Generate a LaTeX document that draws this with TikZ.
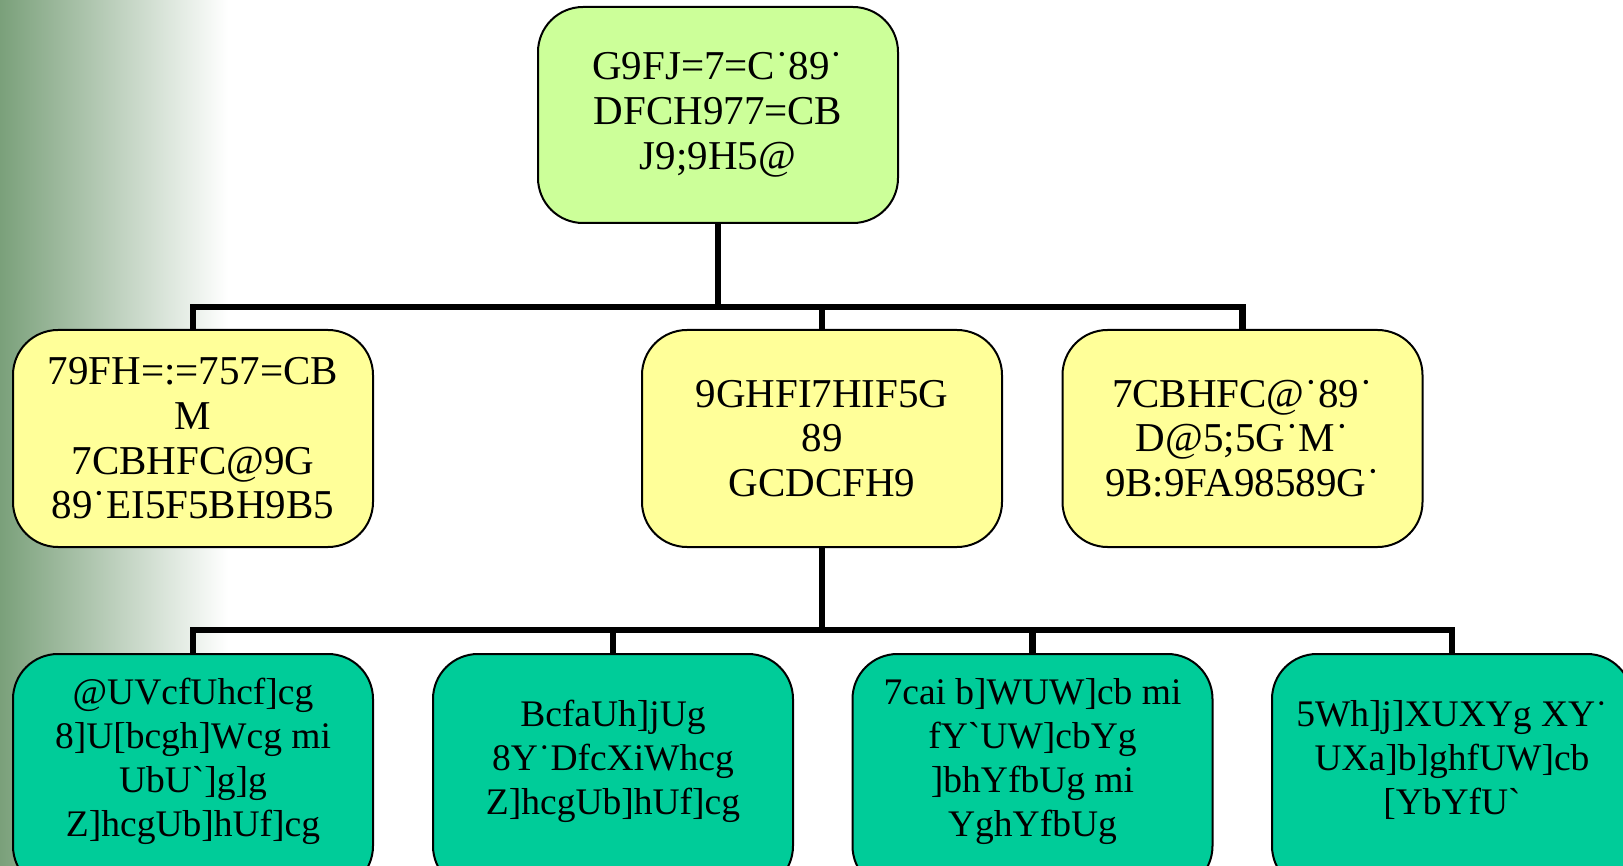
\documentclass[tikz,border=0pt]{standalone}
\usepackage{fontspec}
\newfontfamily\boxfont{Liberation Serif}
\definecolor{topfill}{RGB}{204,255,153}
\definecolor{midfill}{RGB}{255,255,153}
\definecolor{botfill}{RGB}{0,204,153}
\definecolor{bgleft}{RGB}{122,160,122}
\newcommand{\uplines}[1]{\raisebox{11pt}[\height][\depth]{\begin{tabular}{@{}c@{}}#1\end{tabular}}}
\tikzset{
  box/.style={draw=black, line width=2pt, rounded corners=45pt, align=center,
    minimum width=360pt, inner sep=0pt},
  topbox/.style={box, fill=topfill, minimum height=216pt, font=\boxfont\fontsize{41}{45}\selectfont},
  midbox/.style={box, fill=midfill, minimum height=217pt, font=\boxfont\fontsize{41}{44.7}\selectfont},
  botbox/.style={box, fill=botfill, minimum height=237pt, font=\boxfont\fontsize{37.5}{44}\selectfont},
  link/.style={line width=6.5pt, draw=black}
}
\begin{document}
\begin{tikzpicture}[x=1pt,y=-1pt]
\useasboundingbox (0,0) rectangle (1623,866);
\clip (0,0) rectangle (1623,866);
\shade[left color=bgleft, right color=white] (0,0) rectangle (228,866);

\node[topbox] (top) at (718,115) {G9FJ=7=C˙89˙\\DFCH977=CB\\J9;9H5@};

\node[midbox] (ml) at (193,438.5) {79FH=:=757=CB\\M\\7CBHFC@9G\\89˙EI5F5BH9B5};
\node[midbox] (mm) at (822,438.5) {9GHFI7HIF5G\\89\\GCDCFH9};
\node[midbox] (mr) at (1242.5,438.5) {7CBHFC@˙89˙\\D@5;5G˙M˙\\9B:9FA98589G˙};

\node[botbox] (b1) at (193,772.5) {\uplines{@UVcfUhcf]cg\\8]U[bcgh]Wcg mi\\UbU`]g]g\\Z]hcgUb]hUf]cg}};
\node[botbox] (b2) at (613,772.5) {\uplines{BcfaUh]jUg\\8Y˙DfcXiWhcg\\Z]hcgUb]hUf]cg}};
\node[botbox] (b3) at (1032.5,772.5) {\uplines{7cai b]WUW]cb mi\\fY`UW]cbYg\\]bhYfbUg mi\\YghYfbUg}};
\node[botbox] (b4) at (1452,772.5) {\uplines{5Wh]j]XUXYg XY˙\\UXa]b]ghfUW]cb\\{}[YbYfU`}};

\coordinate (j1) at (718,307);
\coordinate (j2) at (822,630);

\draw[link] (top.south) -- (j1);
\draw[link] (ml.north) |- (j1);
\draw[link] (mr.north) |- (j1);
\draw[link] (mm.north) -- (mm.north |- j1);

\draw[link] (mm.south) -- (j2);
\draw[link] (b1.north) |- (j2);
\draw[link] (b4.north) |- (j2);
\draw[link] (b2.north) -- (b2.north |- j2);
\draw[link] (b3.north) -- (b3.north |- j2);
\end{tikzpicture}
\end{document}
